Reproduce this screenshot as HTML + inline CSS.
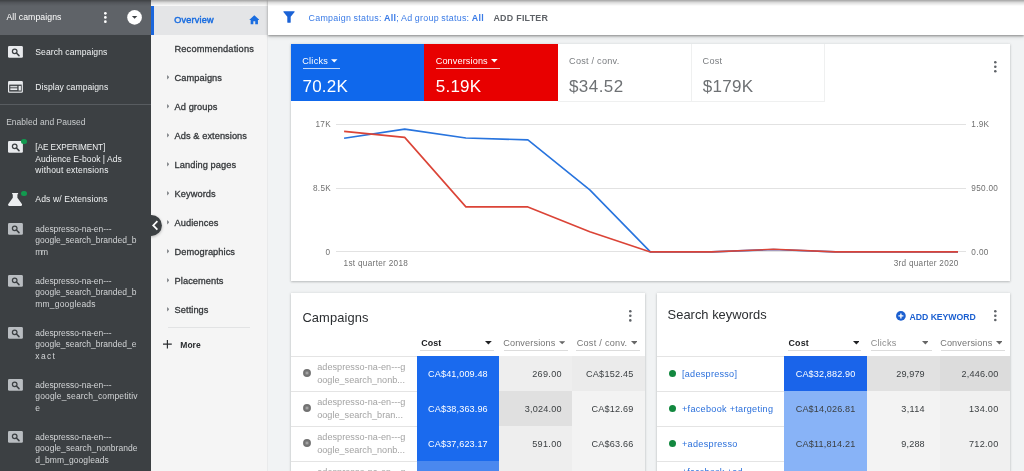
<!DOCTYPE html>
<html>
<head>
<meta charset="utf-8">
<title>Overview</title>
<style>
*{box-sizing:border-box;margin:0;padding:0}
html,body{width:1024px;height:471px;overflow:hidden;background:#f1f3f4;font-family:"Liberation Sans",sans-serif}
.b{position:absolute;display:block}
.x{position:absolute;white-space:pre}
</style>
</head>
<body>
<div class="b" style="left:0px;top:0px;width:151.20px;height:471.00px;background:#3c4043;"></div>
<div class="b" style="left:0px;top:0px;width:151.20px;height:34.50px;background:#5f6368;"></div>
<div class="x" style="left:6.42px;top:11.39px;font-size:8.7px;line-height:12px;letter-spacing:0.075px;color:#fff;">All campaigns</div>
<svg class="b" style="left:102.75px;top:10.950000000000001px" width="4.7" height="13.00"><circle cx="2.35" cy="2.35" r="1.35" fill="#fff"/><circle cx="2.35" cy="6.45" r="1.35" fill="#fff"/><circle cx="2.35" cy="10.65" r="1.35" fill="#fff"/></svg>
<svg class="b" style="left:126.5px;top:10px" width="15.2" height="15" viewBox="0 0 15.2 15"><circle cx="7.55" cy="7.4" r="7.35" fill="#fff"/><path d="M4.9 6.1h5.4L7.6 8.8z" fill="#3c4043"/></svg>
<svg class="b" style="left:7.8px;top:46.1px" width="15" height="12" viewBox="0 0 15 12"><rect x="0" y="0" width="14.9" height="11.8" rx="1.3" fill="#e8eaed"/><circle cx="6.7" cy="5.3" r="2.3" fill="none" stroke="#3c4043" stroke-width="1.25"/><path d="M8.4 7l2.6 2.6" stroke="#3c4043" stroke-width="1.5" stroke-linecap="round"/></svg>
<div class="x" style="left:35.33px;top:45.92px;font-size:8.6px;line-height:12px;letter-spacing:0.055px;color:#f1f3f4;">Search campaigns</div>
<svg class="b" style="left:7.8px;top:80.9px" width="15" height="12" viewBox="0 0 15 12"><rect x="0" y="0" width="14.9" height="11.8" rx="1.3" fill="#e8eaed"/><rect x="1.2" y="3.6" width="12.5" height="7" fill="#3c4043"/><rect x="2.3" y="4.9" width="7" height="1.5" fill="#d0d3d6"/><rect x="2.3" y="7.3" width="7" height="1.8" fill="#e8eaed"/><rect x="10.6" y="4.9" width="2.3" height="4.6" fill="#e8eaed"/></svg>
<div class="x" style="left:35.33px;top:81.12px;font-size:8.6px;line-height:12px;letter-spacing:0.048px;color:#f1f3f4;">Display campaigns</div>
<div class="b" style="left:0px;top:103.7px;width:151.20px;height:1.00px;background:#585c60;"></div>
<div class="x" style="left:6.13px;top:115.85px;font-size:8.5px;line-height:12px;letter-spacing:0.030px;color:#c9ccce;">Enabled and Paused</div>
<svg class="b" style="left:8.2px;top:141.2px" width="15" height="12" viewBox="0 0 15 12"><rect x="0" y="0" width="14.9" height="11.8" rx="1.3" fill="#e8eaed"/><circle cx="6.7" cy="5.3" r="2.3" fill="none" stroke="#3c4043" stroke-width="1.25"/><path d="M8.4 7l2.6 2.6" stroke="#3c4043" stroke-width="1.5" stroke-linecap="round"/></svg>
<div class="b" style="left:21.2px;top:138.5px;width:5.4px;height:5.4px;border-radius:50%;background:#12994f"></div>
<div class="x" style="left:35.35px;top:141.56px;font-size:8.2px;line-height:12px;letter-spacing:-0.077px;color:#f1f3f4;">[AE EXPERIMENT]</div>
<div class="x" style="left:35.33px;top:152.85px;font-size:8.5px;line-height:12px;letter-spacing:0.024px;color:#f1f3f4;">Audience E-book | Ads</div>
<div class="x" style="left:35.33px;top:164.25px;font-size:8.5px;line-height:12px;letter-spacing:0.188px;color:#f1f3f4;">without extensions</div>
<svg class="b" style="left:8.2px;top:193px" width="14.2" height="13" viewBox="0 0 14.2 13"><path d="M4.1 0h6v1.3h-0.7v3.4l4.5 6.3c0.6 0.9 0.1 1.9-1 1.9H1.300c-1.100 0-1.600-1-1-1.900l4.500-6.300V1.300H4.100z" fill="#eceef0"/></svg>
<div class="b" style="left:21.2px;top:191.100px;width:5.4px;height:5.4px;border-radius:50%;background:#12994f"></div>
<div class="x" style="left:35.33px;top:193.32px;font-size:8.6px;line-height:12px;letter-spacing:0.124px;color:#f1f3f4;">Ads w/ Extensions</div>
<svg class="b" style="left:8.2px;top:222.6px" width="15" height="12" viewBox="0 0 15 12"><rect x="0" y="0" width="14.9" height="11.8" rx="1.3" fill="#b9bdc1"/><circle cx="6.7" cy="5.3" r="2.3" fill="none" stroke="#3c4043" stroke-width="1.25"/><path d="M8.4 7l2.6 2.6" stroke="#3c4043" stroke-width="1.5" stroke-linecap="round"/></svg>
<div class="x" style="left:35.33px;top:222.55px;font-size:8.5px;line-height:12px;letter-spacing:-0.037px;color:#d2d4d6;">adespresso-na-en---</div>
<div class="x" style="left:35.33px;top:234.05px;font-size:8.5px;line-height:12px;letter-spacing:-0.005px;color:#d2d4d6;">google_search_branded_b</div>
<div class="x" style="left:35.33px;top:245.55px;font-size:8.5px;line-height:12px;letter-spacing:-1.527px;color:#d2d4d6;">mm</div>
<svg class="b" style="left:8.2px;top:274.7px" width="15" height="12" viewBox="0 0 15 12"><rect x="0" y="0" width="14.9" height="11.8" rx="1.3" fill="#b9bdc1"/><circle cx="6.7" cy="5.3" r="2.3" fill="none" stroke="#3c4043" stroke-width="1.25"/><path d="M8.4 7l2.6 2.6" stroke="#3c4043" stroke-width="1.5" stroke-linecap="round"/></svg>
<div class="x" style="left:35.33px;top:274.65px;font-size:8.5px;line-height:12px;letter-spacing:-0.037px;color:#d2d4d6;">adespresso-na-en---</div>
<div class="x" style="left:35.33px;top:286.15px;font-size:8.5px;line-height:12px;letter-spacing:-0.005px;color:#d2d4d6;">google_search_branded_b</div>
<div class="x" style="left:35.33px;top:297.65px;font-size:8.5px;line-height:12px;letter-spacing:0.183px;color:#d2d4d6;">mm_googleads</div>
<svg class="b" style="left:8.2px;top:326.8px" width="15" height="12" viewBox="0 0 15 12"><rect x="0" y="0" width="14.9" height="11.8" rx="1.3" fill="#b9bdc1"/><circle cx="6.7" cy="5.3" r="2.3" fill="none" stroke="#3c4043" stroke-width="1.25"/><path d="M8.4 7l2.6 2.6" stroke="#3c4043" stroke-width="1.5" stroke-linecap="round"/></svg>
<div class="x" style="left:35.33px;top:326.75px;font-size:8.5px;line-height:12px;letter-spacing:-0.037px;color:#d2d4d6;">adespresso-na-en---</div>
<div class="x" style="left:35.33px;top:338.25px;font-size:8.5px;line-height:12px;letter-spacing:-0.005px;color:#d2d4d6;">google_search_branded_e</div>
<div class="x" style="left:35.33px;top:349.75px;font-size:8.5px;line-height:12px;letter-spacing:1.348px;color:#d2d4d6;">xact</div>
<svg class="b" style="left:8.2px;top:378.9px" width="15" height="12" viewBox="0 0 15 12"><rect x="0" y="0" width="14.9" height="11.8" rx="1.3" fill="#b9bdc1"/><circle cx="6.7" cy="5.3" r="2.3" fill="none" stroke="#3c4043" stroke-width="1.25"/><path d="M8.4 7l2.6 2.6" stroke="#3c4043" stroke-width="1.5" stroke-linecap="round"/></svg>
<div class="x" style="left:35.33px;top:378.85px;font-size:8.5px;line-height:12px;letter-spacing:-0.037px;color:#d2d4d6;">adespresso-na-en---</div>
<div class="x" style="left:35.33px;top:390.35px;font-size:8.5px;line-height:12px;letter-spacing:0.147px;color:#d2d4d6;">google_search_competitiv</div>
<div class="x" style="left:35.33px;top:401.85px;font-size:8.5px;line-height:12px;letter-spacing:0.707px;color:#d2d4d6;">e</div>
<svg class="b" style="left:8.2px;top:431.0px" width="15" height="12" viewBox="0 0 15 12"><rect x="0" y="0" width="14.9" height="11.8" rx="1.3" fill="#b9bdc1"/><circle cx="6.7" cy="5.3" r="2.3" fill="none" stroke="#3c4043" stroke-width="1.25"/><path d="M8.4 7l2.6 2.6" stroke="#3c4043" stroke-width="1.5" stroke-linecap="round"/></svg>
<div class="x" style="left:35.33px;top:430.95px;font-size:8.5px;line-height:12px;letter-spacing:-0.037px;color:#d2d4d6;">adespresso-na-en---</div>
<div class="x" style="left:35.33px;top:442.45px;font-size:8.5px;line-height:12px;letter-spacing:0.045px;color:#d2d4d6;">google_search_nonbrande</div>
<div class="x" style="left:35.33px;top:453.95px;font-size:8.5px;line-height:12px;letter-spacing:0.088px;color:#d2d4d6;">d_bmm_googleads</div>
<div class="b" style="left:151.2px;top:0px;width:115.80px;height:471.00px;background:#f5f5f5;"></div>
<div class="b" style="left:266.6px;top:0px;width:1.20px;height:471.00px;background:#e9eaeb;"></div>
<div class="b" style="left:151.2px;top:0px;width:116.60px;height:5.50px;background:#fcfcfc;"></div>
<div class="b" style="left:151.2px;top:5.5px;width:115.80px;height:29.00px;background:#e4e5e7;"></div>
<div class="b" style="left:151.2px;top:5.5px;width:3.00px;height:29.00px;background:#1a66dc;"></div>
<div class="x" style="left:174.30px;top:14.25px;font-size:9.1px;line-height:12px;letter-spacing:0.197px;color:#1a6de0;-webkit-text-stroke:0.45px #1a6de0;">Overview</div>
<svg class="b" style="left:248.900px;top:15.200px" width="10.600" height="9.600" viewBox="0 0 11 10"><path d="M5.5 0.3L0.200 5.100h1.500V9.700h2.800V6.500h2v3.200h2.800V5.100h1.500z" fill="#1a6de0"/></svg>
<div class="x" style="left:174.49px;top:42.59px;font-size:9.25px;line-height:12px;letter-spacing:0.157px;color:#35383b;-webkit-text-stroke:0.3px #35383b;">Recommendations</div>
<div class="x" style="left:174.59px;top:71.79px;font-size:9.25px;line-height:12px;letter-spacing:0.072px;color:#35383b;-webkit-text-stroke:0.3px #35383b;">Campaigns</div>
<svg class="b" style="left:166.5px;top:75.40px" width="2.6" height="4.4" viewBox="0 0 2.6 4.4"><path d="M0 0L2.600 2.200L0 4.400z" fill="#8a8d91"/></svg>
<div class="x" style="left:174.59px;top:100.79px;font-size:9.25px;line-height:12px;letter-spacing:0.065px;color:#35383b;-webkit-text-stroke:0.3px #35383b;">Ad groups</div>
<svg class="b" style="left:166.5px;top:104.40px" width="2.6" height="4.4" viewBox="0 0 2.6 4.4"><path d="M0 0L2.600 2.200L0 4.400z" fill="#8a8d91"/></svg>
<div class="x" style="left:174.59px;top:129.79px;font-size:9.25px;line-height:12px;letter-spacing:0.058px;color:#35383b;-webkit-text-stroke:0.3px #35383b;">Ads &amp; extensions</div>
<svg class="b" style="left:166.5px;top:133.40px" width="2.6" height="4.4" viewBox="0 0 2.6 4.4"><path d="M0 0L2.600 2.200L0 4.400z" fill="#8a8d91"/></svg>
<div class="x" style="left:174.59px;top:158.79px;font-size:9.25px;line-height:12px;letter-spacing:0.062px;color:#35383b;-webkit-text-stroke:0.3px #35383b;">Landing pages</div>
<svg class="b" style="left:166.5px;top:162.40px" width="2.6" height="4.4" viewBox="0 0 2.6 4.4"><path d="M0 0L2.600 2.200L0 4.400z" fill="#8a8d91"/></svg>
<div class="x" style="left:174.59px;top:187.79px;font-size:9.25px;line-height:12px;letter-spacing:0.072px;color:#35383b;-webkit-text-stroke:0.3px #35383b;">Keywords</div>
<svg class="b" style="left:166.5px;top:191.40px" width="2.6" height="4.4" viewBox="0 0 2.6 4.4"><path d="M0 0L2.600 2.200L0 4.400z" fill="#8a8d91"/></svg>
<div class="x" style="left:174.59px;top:216.79px;font-size:9.25px;line-height:12px;letter-spacing:0.067px;color:#35383b;-webkit-text-stroke:0.3px #35383b;">Audiences</div>
<svg class="b" style="left:166.5px;top:220.40px" width="2.6" height="4.4" viewBox="0 0 2.6 4.4"><path d="M0 0L2.600 2.200L0 4.400z" fill="#8a8d91"/></svg>
<div class="x" style="left:174.59px;top:245.79px;font-size:9.25px;line-height:12px;letter-spacing:0.067px;color:#35383b;-webkit-text-stroke:0.3px #35383b;">Demographics</div>
<svg class="b" style="left:166.5px;top:249.40px" width="2.6" height="4.4" viewBox="0 0 2.6 4.4"><path d="M0 0L2.600 2.200L0 4.400z" fill="#8a8d91"/></svg>
<div class="x" style="left:174.59px;top:274.79px;font-size:9.25px;line-height:12px;letter-spacing:0.066px;color:#35383b;-webkit-text-stroke:0.3px #35383b;">Placements</div>
<svg class="b" style="left:166.5px;top:278.40px" width="2.6" height="4.4" viewBox="0 0 2.6 4.4"><path d="M0 0L2.600 2.200L0 4.400z" fill="#8a8d91"/></svg>
<div class="x" style="left:174.59px;top:303.79px;font-size:9.25px;line-height:12px;letter-spacing:0.060px;color:#35383b;-webkit-text-stroke:0.3px #35383b;">Settings</div>
<svg class="b" style="left:166.5px;top:307.40px" width="2.6" height="4.4" viewBox="0 0 2.6 4.4"><path d="M0 0L2.600 2.200L0 4.400z" fill="#8a8d91"/></svg>
<div class="b" style="left:168.3px;top:326.9px;width:81.70px;height:1.00px;background:#e2e3e4;"></div>
<svg class="b" style="left:163.200px;top:340.200px" width="8.8" height="8.4" viewBox="0 0 8.8 8.4"><path d="M4.400 0v8.400M0 4.200h8.800" stroke="#2a2d30" stroke-width="1.150"/></svg>
<div class="x" style="left:180.33px;top:338.85px;font-size:8.5px;line-height:12px;letter-spacing:0.009px;color:#2a2d30;font-weight:bold;">More</div>
<div class="b" style="left:151.200px;top:208px;width:20px;height:36px;overflow:hidden"><svg class="b" style="left:-11.200px;top:4px;filter:drop-shadow(0.5px 1.5px 1.5px rgba(0,0,0,.28))" width="26" height="28" viewBox="0 0 26 28"><circle cx="11.400" cy="13.400" r="10.500" fill="#3c4043"/><path d="M17.400 9.200L13.200 13.400l4.200 4.200" fill="none" stroke="#fff" stroke-width="1.700"/></svg></div>
<div class="b" style="left:267.8px;top:0px;width:756.20px;height:35.00px;background:#fff;box-shadow:0 1px 2px rgba(0,0,0,.34),0 2px 4px rgba(0,0,0,.14);"></div>
<svg class="b" style="left:282.600px;top:11.300px" width="12" height="12.400" viewBox="0 0 12 12.400"><path d="M0.800 0.300h10.400q0.700 0.100 0.400 0.800L7.700 5.700v5.500q-0.100 0.600-0.700 0.600H5q-0.600 0-0.700-0.600V5.700L0.400 1.100q-0.300-0.700 0.400-0.800z" fill="#1a62d6"/></svg>
<div class="x" style="left:308.51px;top:11.62px;font-size:8.9px;line-height:12px;letter-spacing:0.273px;color:#3a7be6;word-spacing:-0.3px;">Campaign status: <b>All</b>; Ad group status: <b>All</b></div>
<div class="x" style="left:493.41px;top:11.62px;font-size:8.9px;line-height:12px;letter-spacing:0.271px;color:#5f6368;font-weight:bold;">ADD FILTER</div>
<div class="b" style="left:0;top:0;width:1024px;height:6px;background:linear-gradient(to bottom,rgba(0,0,0,.36),rgba(0,0,0,.13) 45%,rgba(0,0,0,0))"></div>
<div class="b" style="left:291.3px;top:43.6px;width:719.10px;height:237.20px;background:#fff;box-shadow:0 1px 2px rgba(60,64,67,.26),0 0 3px rgba(60,64,67,.12);"></div>
<div class="b" style="left:291.3px;top:43.6px;width:133.00px;height:57.80px;background:#0f68ec;"></div>
<div class="b" style="left:424.3px;top:43.6px;width:133.60px;height:57.80px;background:#e80000;"></div>
<div class="b" style="left:557.9px;top:100.8px;width:266.60px;height:0.80px;background:#eff0f0;"></div>
<div class="b" style="left:690.6px;top:43.6px;width:0.90px;height:57.70px;background:#eff0f0;"></div>
<div class="b" style="left:824px;top:43.6px;width:0.90px;height:58.00px;background:#eff0f0;"></div>
<div class="x" style="left:302.20px;top:55.13px;font-size:9.15px;line-height:12px;letter-spacing:0.281px;color:#fff;">Clicks</div>
<svg class="b" style="left:331.3px;top:59.3px" width="6.50" height="3.50" viewBox="0 0 10 5"><path d="M0 0h10L5 5z" fill="#fff"/></svg>
<div class="b" style="left:302.7px;top:67.9px;width:37.70px;height:0.90px;background:rgba(255,255,255,.75);"></div>
<div class="x" style="left:302.46px;top:76.01px;font-size:17px;line-height:22px;letter-spacing:0.236px;color:#fff;">70.2K</div>
<div class="x" style="left:435.70px;top:55.13px;font-size:9.15px;line-height:12px;letter-spacing:0.125px;color:#fff;">Conversions</div>
<svg class="b" style="left:491px;top:59.3px" width="6.70" height="3.50" viewBox="0 0 10 5"><path d="M0 0h10L5 5z" fill="#fff"/></svg>
<div class="b" style="left:436.1px;top:67.9px;width:64.40px;height:0.90px;background:rgba(255,255,255,.75);"></div>
<div class="x" style="left:435.87px;top:76.01px;font-size:17px;line-height:22px;letter-spacing:0.211px;color:#fff;">5.19K</div>
<div class="x" style="left:569.10px;top:55.03px;font-size:9.15px;line-height:12px;letter-spacing:0.234px;color:#7a7d80;">Cost / conv.</div>
<div class="x" style="left:568.97px;top:76.01px;font-size:17px;line-height:22px;letter-spacing:0.435px;color:#6e7174;">$34.52</div>
<div class="x" style="left:702.60px;top:55.03px;font-size:9.15px;line-height:12px;letter-spacing:0.231px;color:#7a7d80;">Cost</div>
<div class="x" style="left:702.67px;top:76.01px;font-size:17px;line-height:22px;letter-spacing:0.328px;color:#6e7174;">$179K</div>
<svg class="b" style="left:992.9000000000001px;top:59.900000000000006px" width="4.6" height="13.50"><circle cx="2.3" cy="2.30" r="1.3" fill="#5f6368"/><circle cx="2.3" cy="6.75" r="1.3" fill="#5f6368"/><circle cx="2.3" cy="11.20" r="1.3" fill="#5f6368"/></svg>
<div class="b" style="left:335.6px;top:123.9px;width:630.40px;height:1.00px;background:#e2e2e2;"></div>
<div class="b" style="left:335.6px;top:187.6px;width:630.40px;height:1.00px;background:#e2e2e2;"></div>
<div class="b" style="left:335.6px;top:251.3px;width:630.40px;height:1.00px;background:#e2e2e2;"></div>
<div class="x" style="left:315.45px;top:119.36px;font-size:8.2px;line-height:12px;letter-spacing:0.356px;color:#707070;">17K</div>
<div class="x" style="left:312.95px;top:183.16px;font-size:8.2px;line-height:12px;letter-spacing:0.311px;color:#707070;">8.5K</div>
<div class="x" style="left:325.55px;top:246.86px;font-size:8.2px;line-height:12px;letter-spacing:0.641px;color:#707070;">0</div>
<div class="x" style="left:971.35px;top:119.36px;font-size:8.2px;line-height:12px;letter-spacing:0.244px;color:#707070;">1.9K</div>
<div class="x" style="left:971.35px;top:183.16px;font-size:8.2px;line-height:12px;letter-spacing:0.304px;color:#707070;">950.00</div>
<div class="x" style="left:971.35px;top:246.86px;font-size:8.2px;line-height:12px;letter-spacing:0.380px;color:#707070;">0.00</div>
<div class="x" style="left:343.55px;top:257.56px;font-size:8.2px;line-height:12px;letter-spacing:0.312px;color:#707070;">1st quarter 2018</div>
<div class="x" style="left:893.75px;top:257.56px;font-size:8.2px;line-height:12px;letter-spacing:0.271px;color:#707070;">3rd quarter 2020</div>
<svg class="b" style="left:0;top:0" width="1024" height="471" viewBox="0 0 1024 471"><polyline fill="none" stroke="#2874de" stroke-width="1.6" stroke-linejoin="round" points="344.1,138.2 404.7,129.1 465.9,138.0 527.9,139.9 589.8,189.9 650.4,251.9 711.6,251.9 773.5,249.5 835.5,251.9 896.7,251.9 958.0,251.9"/><polyline fill="none" stroke="#db4437" stroke-width="1.6" stroke-linejoin="round" points="344.1,131.4 404.7,137.4 465.9,206.9 527.9,206.9 589.8,231.7 650.4,251.9 711.6,251.9 773.5,249.3 835.5,251.9 896.7,251.9 958.0,251.9"/></svg>
<div class="b" style="left:291.4px;top:293px;width:353.40px;height:187.00px;background:#fff;box-shadow:0 1px 2px rgba(60,64,67,.26),0 0 3px rgba(60,64,67,.12);"></div>
<div class="x" style="left:302.39px;top:308.63px;font-size:12.9px;line-height:17px;letter-spacing:0.109px;color:#2b2e31;">Campaigns</div>
<svg class="b" style="left:627.7px;top:309.3px" width="4.6" height="13.70"><circle cx="2.3" cy="2.30" r="1.3" fill="#5f6368"/><circle cx="2.3" cy="6.80" r="1.3" fill="#5f6368"/><circle cx="2.3" cy="11.40" r="1.3" fill="#5f6368"/></svg>
<div class="x" style="left:421.21px;top:337.22px;font-size:8.9px;line-height:12px;letter-spacing:0.101px;color:#202124;font-weight:bold;">Cost</div>
<svg class="b" style="left:484.8px;top:341.3px" width="6.80" height="3.50" viewBox="0 0 10 5"><path d="M0 0h10L5 5z" fill="#202124"/></svg>
<div class="b" style="left:420.4px;top:349.8px;width:73.80px;height:0.90px;background:#dcdcdc;"></div>
<div class="x" style="left:503.20px;top:337.13px;font-size:9.15px;line-height:12px;letter-spacing:0.145px;color:#757575;">Conversions</div>
<svg class="b" style="left:559.1px;top:341.3px" width="6.40" height="3.50" viewBox="0 0 10 5"><path d="M0 0h10L5 5z" fill="#666"/></svg>
<div class="b" style="left:503.7px;top:349.8px;width:64.30px;height:0.90px;background:#dcdcdc;"></div>
<div class="x" style="left:576.70px;top:337.13px;font-size:9.15px;line-height:12px;letter-spacing:0.261px;color:#757575;">Cost / conv.</div>
<svg class="b" style="left:630.5px;top:341.3px" width="6.70" height="3.50" viewBox="0 0 10 5"><path d="M0 0h10L5 5z" fill="#666"/></svg>
<div class="b" style="left:576.3px;top:349.8px;width:63.30px;height:0.90px;background:#dcdcdc;"></div>
<div class="b" style="left:291.4px;top:355.9px;width:353.40px;height:0.90px;background:#e4e4e4;"></div>
<div class="b" style="left:291.4px;top:390.8px;width:125.30px;height:0.90px;background:#e4e4e4;"></div>
<div class="b" style="left:291.4px;top:425.70000000000005px;width:125.30px;height:0.90px;background:#e4e4e4;"></div>
<div class="b" style="left:291.4px;top:460.5px;width:125.30px;height:0.90px;background:#e4e4e4;"></div>
<div class="b" style="left:416.7px;top:356.4px;width:82.40px;height:104.50px;background:#1a6aee;"></div>
<div class="b" style="left:416.7px;top:460.9px;width:82.40px;height:19.10px;background:#4a88ef;"></div>
<div class="b" style="left:499.1px;top:356.4px;width:73.10px;height:34.80px;background:#eeeeee;"></div>
<div class="b" style="left:499.1px;top:391.2px;width:73.10px;height:34.90px;background:#e0e0e0;"></div>
<div class="b" style="left:499.1px;top:426.1px;width:73.10px;height:53.90px;background:#eeeeee;"></div>
<div class="b" style="left:572.2px;top:356.4px;width:72.60px;height:34.80px;background:#ebebeb;"></div>
<div class="b" style="left:572.2px;top:391.2px;width:72.60px;height:88.80px;background:#f3f3f3;"></div>
<svg class="b" style="left:302.300px;top:368.40px" width="10" height="10" viewBox="0 0 10 10"><circle cx="5" cy="5" r="3.950" fill="#727272"/><rect x="3.700" y="3.600" width="1" height="2.800" fill="#b8b8b8"/><rect x="5.300" y="3.600" width="1" height="2.800" fill="#b8b8b8"/></svg>
<div class="x" style="left:317.20px;top:361.45px;font-size:9.1px;line-height:12px;letter-spacing:0.042px;color:#a3a3a3;">adespresso-na-en---g</div>
<div class="x" style="left:317.20px;top:374.25px;font-size:9.1px;line-height:12px;letter-spacing:0.014px;color:#a3a3a3;">oogle_search_nonb...</div>
<div class="x" style="left:428.10px;top:367.95px;font-size:9.1px;line-height:12px;letter-spacing:0.129px;color:#fff;">CA$41,009.48</div>
<div class="x" style="left:532.20px;top:367.95px;font-size:9.1px;line-height:12px;letter-spacing:0.314px;color:#3c4043;">269.00</div>
<div class="x" style="left:586.00px;top:367.95px;font-size:9.1px;line-height:12px;letter-spacing:0.233px;color:#3c4043;">CA$152.45</div>
<svg class="b" style="left:302.300px;top:403.20px" width="10" height="10" viewBox="0 0 10 10"><circle cx="5" cy="5" r="3.950" fill="#727272"/><rect x="3.700" y="3.600" width="1" height="2.800" fill="#b8b8b8"/><rect x="5.300" y="3.600" width="1" height="2.800" fill="#b8b8b8"/></svg>
<div class="x" style="left:317.20px;top:396.25px;font-size:9.1px;line-height:12px;letter-spacing:0.042px;color:#a3a3a3;">adespresso-na-en---g</div>
<div class="x" style="left:317.20px;top:409.05px;font-size:9.1px;line-height:12px;letter-spacing:0.016px;color:#a3a3a3;">oogle_search_bran...</div>
<div class="x" style="left:428.10px;top:402.75px;font-size:9.1px;line-height:12px;letter-spacing:0.129px;color:#fff;">CA$38,363.96</div>
<div class="x" style="left:524.70px;top:402.75px;font-size:9.1px;line-height:12px;letter-spacing:0.211px;color:#3c4043;">3,024.00</div>
<div class="x" style="left:591.40px;top:402.75px;font-size:9.1px;line-height:12px;letter-spacing:0.218px;color:#3c4043;">CA$12.69</div>
<svg class="b" style="left:302.300px;top:438.10px" width="10" height="10" viewBox="0 0 10 10"><circle cx="5" cy="5" r="3.950" fill="#727272"/><rect x="3.700" y="3.600" width="1" height="2.800" fill="#b8b8b8"/><rect x="5.300" y="3.600" width="1" height="2.800" fill="#b8b8b8"/></svg>
<div class="x" style="left:317.20px;top:431.15px;font-size:9.1px;line-height:12px;letter-spacing:0.042px;color:#a3a3a3;">adespresso-na-en---g</div>
<div class="x" style="left:317.20px;top:443.95px;font-size:9.1px;line-height:12px;letter-spacing:0.014px;color:#a3a3a3;">oogle_search_nonb...</div>
<div class="x" style="left:428.10px;top:437.65px;font-size:9.1px;line-height:12px;letter-spacing:0.129px;color:#fff;">CA$37,623.17</div>
<div class="x" style="left:532.20px;top:437.65px;font-size:9.1px;line-height:12px;letter-spacing:0.314px;color:#3c4043;">591.00</div>
<div class="x" style="left:591.40px;top:437.65px;font-size:9.1px;line-height:12px;letter-spacing:0.218px;color:#3c4043;">CA$63.66</div>
<div class="x" style="left:317.20px;top:465.95px;font-size:9.1px;line-height:12px;letter-spacing:0.042px;color:#a3a3a3;">adespresso-na-en---g</div>
<div class="b" style="left:657.1px;top:293px;width:353.30px;height:187.00px;background:#fff;box-shadow:0 1px 2px rgba(60,64,67,.26),0 0 3px rgba(60,64,67,.12);"></div>
<div class="x" style="left:667.59px;top:306.43px;font-size:12.9px;line-height:17px;letter-spacing:0.020px;color:#2b2e31;">Search keywords</div>
<svg class="b" style="left:896px;top:311.100px" width="9.8" height="9.8" viewBox="0 0 9.8 9.8"><circle cx="4.900" cy="4.900" r="4.850" fill="#1b5fd0"/><path d="M4.900 2.400v5M2.400 4.900h5" stroke="#fff" stroke-width="1.350"/></svg>
<div class="x" style="left:909.62px;top:310.59px;font-size:8.7px;line-height:12px;letter-spacing:-0.054px;color:#1b5fd0;font-weight:bold;">ADD KEYWORD</div>
<svg class="b" style="left:992.9000000000001px;top:309.4px" width="4.6" height="13.30"><circle cx="2.3" cy="2.30" r="1.3" fill="#5f6368"/><circle cx="2.3" cy="6.70" r="1.3" fill="#5f6368"/><circle cx="2.3" cy="11.00" r="1.3" fill="#5f6368"/></svg>
<div class="x" style="left:788.51px;top:337.22px;font-size:8.9px;line-height:12px;letter-spacing:0.201px;color:#202124;font-weight:bold;">Cost</div>
<svg class="b" style="left:852.7px;top:341.3px" width="6.70" height="3.50" viewBox="0 0 10 5"><path d="M0 0h10L5 5z" fill="#202124"/></svg>
<div class="b" style="left:788.4px;top:349.8px;width:73.00px;height:0.90px;background:#dcdcdc;"></div>
<div class="x" style="left:870.80px;top:337.13px;font-size:9.15px;line-height:12px;letter-spacing:0.221px;color:#8c8c8c;">Clicks</div>
<svg class="b" style="left:921.7px;top:341.3px" width="6.80" height="3.50" viewBox="0 0 10 5"><path d="M0 0h10L5 5z" fill="#666"/></svg>
<div class="b" style="left:871.3px;top:349.8px;width:60.40px;height:0.90px;background:#dcdcdc;"></div>
<div class="x" style="left:940.20px;top:337.13px;font-size:9.15px;line-height:12px;letter-spacing:0.135px;color:#757575;">Conversions</div>
<svg class="b" style="left:995.7px;top:341.3px" width="6.80" height="3.50" viewBox="0 0 10 5"><path d="M0 0h10L5 5z" fill="#666"/></svg>
<div class="b" style="left:940.7px;top:349.8px;width:64.30px;height:0.90px;background:#dcdcdc;"></div>
<div class="b" style="left:657.1px;top:355.9px;width:353.30px;height:0.90px;background:#e4e4e4;"></div>
<div class="b" style="left:657.1px;top:390.8px;width:127.10px;height:0.90px;background:#e4e4e4;"></div>
<div class="b" style="left:657.1px;top:425.70000000000005px;width:127.10px;height:0.90px;background:#e4e4e4;"></div>
<div class="b" style="left:657.1px;top:460.5px;width:127.10px;height:0.90px;background:#e4e4e4;"></div>
<div class="b" style="left:784.2px;top:356.4px;width:82.60px;height:34.80px;background:#1a64ea;"></div>
<div class="b" style="left:784.2px;top:391.2px;width:82.60px;height:88.80px;background:#88b3f7;"></div>
<div class="b" style="left:866.8px;top:356.4px;width:73.20px;height:34.80px;background:#e1e1e1;"></div>
<div class="b" style="left:940px;top:356.4px;width:70.40px;height:34.80px;background:#dcdcdc;"></div>
<div class="b" style="left:866.8px;top:391.2px;width:73.20px;height:88.80px;background:#f3f3f3;"></div>
<div class="b" style="left:940px;top:391.2px;width:70.40px;height:88.80px;background:#f0f0f0;"></div>
<div class="b" style="left:668.7px;top:369.90px;width:7.5px;height:7.5px;border-radius:50%;background:#12883f"></div>
<div class="x" style="left:682.00px;top:367.95px;font-size:9.1px;line-height:12px;letter-spacing:0.263px;color:#2a6fdb;">[adespresso]</div>
<div class="x" style="left:795.70px;top:367.95px;font-size:9.1px;line-height:12px;letter-spacing:0.129px;color:#fff;">CA$32,882.90</div>
<div class="x" style="left:896.20px;top:367.95px;font-size:9.1px;line-height:12px;letter-spacing:0.134px;color:#3c4043;">29,979</div>
<div class="x" style="left:961.40px;top:367.95px;font-size:9.1px;line-height:12px;letter-spacing:0.211px;color:#3c4043;">2,446.00</div>
<div class="b" style="left:668.7px;top:404.70px;width:7.5px;height:7.5px;border-radius:50%;background:#12883f"></div>
<div class="x" style="left:682.00px;top:402.75px;font-size:9.1px;line-height:12px;letter-spacing:0.289px;color:#2a6fdb;">+facebook +targeting</div>
<div class="x" style="left:795.70px;top:402.75px;font-size:9.1px;line-height:12px;letter-spacing:0.129px;color:#3c4043;">CA$14,026.81</div>
<div class="x" style="left:901.30px;top:402.75px;font-size:9.1px;line-height:12px;letter-spacing:0.326px;color:#3c4043;">3,114</div>
<div class="x" style="left:968.90px;top:402.75px;font-size:9.1px;line-height:12px;letter-spacing:0.314px;color:#3c4043;">134.00</div>
<div class="b" style="left:668.7px;top:439.60px;width:7.5px;height:7.5px;border-radius:50%;background:#12883f"></div>
<div class="x" style="left:682.00px;top:437.65px;font-size:9.1px;line-height:12px;letter-spacing:0.304px;color:#2a6fdb;">+adespresso</div>
<div class="x" style="left:795.70px;top:437.65px;font-size:9.1px;line-height:12px;letter-spacing:0.190px;color:#3c4043;">CA$11,814.21</div>
<div class="x" style="left:901.30px;top:437.65px;font-size:9.1px;line-height:12px;letter-spacing:0.157px;color:#3c4043;">9,288</div>
<div class="x" style="left:968.90px;top:437.65px;font-size:9.1px;line-height:12px;letter-spacing:0.314px;color:#3c4043;">712.00</div>
<div class="x" style="left:682.00px;top:465.95px;font-size:9.1px;line-height:12px;letter-spacing:0.024px;color:#2a6fdb;">+facebook +ad</div>
</body>
</html>
